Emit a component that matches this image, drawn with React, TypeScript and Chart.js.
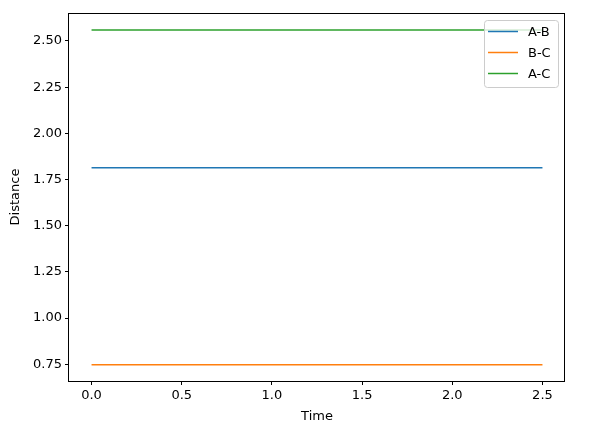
import React, { useEffect, useRef } from "react";
import { Chart, registerables } from "chart.js";

Chart.register(...registerables);

const times = [0.0, 0.5, 1.0, 1.5, 2.0, 2.5];
const abValues = [1.814, 1.814, 1.814, 1.814, 1.814, 1.814];
const bcValues = [0.748, 0.748, 0.748, 0.748, 0.748, 0.748];
const acValues = [2.559, 2.559, 2.559, 2.559, 2.559, 2.559];
const seriesNames = ["A-B", "B-C", "A-C"];
const seriesColors = ["#1f77b4", "#ff7f0e", "#2ca02c"];
const xTicks = [0.0, 0.5, 1.0, 1.5, 2.0, 2.5];
const yTicks = [0.75, 1.0, 1.25, 1.5, 1.75, 2.0, 2.25, 2.5];
const xTitle = "Time";
const yTitle = "Distance";

const FONT = "DejaVu Sans";
const FS = 13;

export default function App() {
  const ref = useRef<HTMLCanvasElement | null>(null);

  useEffect(() => {
    if (!ref.current) return;
    const allSeries = [abValues, bcValues, acValues];
    const framePlugin = {
      id: "frameAndLegend",
      afterDraw(chart: any) {
        const ctx = chart.ctx;
        const a = chart.chartArea;
        ctx.save();
        ctx.strokeStyle = "#000";
        ctx.lineWidth = 1;
        ctx.strokeRect(Math.round(a.left) - 0.5, Math.round(a.top) + 0.5, Math.round(a.right - a.left), Math.round(a.bottom - a.top));
        ctx.fillStyle = "#000";
        ctx.font = `${FS}px "${FONT}"`;
        ctx.textAlign = "center";
        ctx.textBaseline = "middle";
        ctx.fillText(xTitle, (a.left + a.right) / 2, 417);
        ctx.save();
        ctx.translate(15.5, (a.top + a.bottom) / 2);
        ctx.rotate(-Math.PI / 2);
        ctx.fillText(yTitle, 0, 0);
        ctx.restore();
        const lx = 484.5, ly = 20.5, lw = 74, lh = 67, r = 3;
        ctx.beginPath();
        ctx.moveTo(lx + r, ly);
        ctx.lineTo(lx + lw - r, ly);
        ctx.quadraticCurveTo(lx + lw, ly, lx + lw, ly + r);
        ctx.lineTo(lx + lw, ly + lh - r);
        ctx.quadraticCurveTo(lx + lw, ly + lh, lx + lw - r, ly + lh);
        ctx.lineTo(lx + r, ly + lh);
        ctx.quadraticCurveTo(lx, ly + lh, lx, ly + lh - r);
        ctx.lineTo(lx, ly + r);
        ctx.quadraticCurveTo(lx, ly, lx + r, ly);
        ctx.closePath();
        ctx.fillStyle = "rgba(255,255,255,0.8)";
        ctx.fill();
        ctx.strokeStyle = "#cccccc";
        ctx.lineWidth = 1;
        ctx.stroke();
        ctx.textAlign = "left";
        ctx.textBaseline = "middle";
        seriesNames.forEach((name, i) => {
          const y = 31.5 + i * 21;
          ctx.strokeStyle = seriesColors[i];
          ctx.lineWidth = 1.5;
          ctx.beginPath();
          ctx.moveTo(488, y);
          ctx.lineTo(518, y);
          ctx.stroke();
          ctx.fillStyle = "#000";
          ctx.fillText(name, 528, y + 1);
        });
        ctx.restore();
      },
    };

    const chart = new Chart(ref.current, {
      type: "line",
      data: {
        datasets: seriesNames.map((name, i) => ({
          label: name,
          data: times.map((t, j) => ({ x: t, y: allSeries[i][j] })),
          borderColor: seriesColors[i],
          backgroundColor: seriesColors[i],
          borderWidth: 1.5,
          pointRadius: 0,
          fill: false,
          tension: 0,
        })),
      },
      options: {
        responsive: false,
        animation: false,
        layout: { padding: { left: 0, top: 13, right: 35, bottom: 0 } },
        plugins: { legend: { display: false }, tooltip: { enabled: false } },
        scales: {
          x: {
            type: "linear",
            min: -0.125,
            max: 2.625,
            afterBuildTicks: (s: any) => {
              s.ticks = xTicks.map((v) => ({ value: v }));
            },
            afterFit: (s: any) => {
              s.height = 49;
            },
            ticks: {
              font: { family: FONT, size: FS },
              color: "#000",
              padding: 3,
              maxRotation: 0,
              autoSkip: false,
              callback: (v: any) => Number(v).toFixed(1),
            },
            grid: { drawOnChartArea: false, drawTicks: true, tickLength: 4, color: "#000" },
            border: { display: false },
          },
          y: {
            type: "linear",
            min: 0.6596,
            max: 2.6515,
            afterBuildTicks: (s: any) => {
              s.ticks = yTicks.map((v) => ({ value: v }));
            },
            afterFit: (s: any) => {
              s.width = 69;
            },
            ticks: {
              font: { family: FONT, size: FS },
              color: "#000",
              padding: 3,
              autoSkip: false,
              callback: (v: any) => Number(v).toFixed(2),
            },
            grid: { drawOnChartArea: false, drawTicks: true, tickLength: 4, color: "#000" },
            border: { display: false },
          },
        },
      },
      plugins: [framePlugin],
    } as any);
    return () => chart.destroy();
  }, []);

  return (
    <div style={{ position: "absolute", left: 0, top: 0, width: 600, height: 430, background: "#fff" }}>
      <canvas ref={ref} width={600} height={430} style={{ width: 600, height: 430 }} />
    </div>
  );
}
